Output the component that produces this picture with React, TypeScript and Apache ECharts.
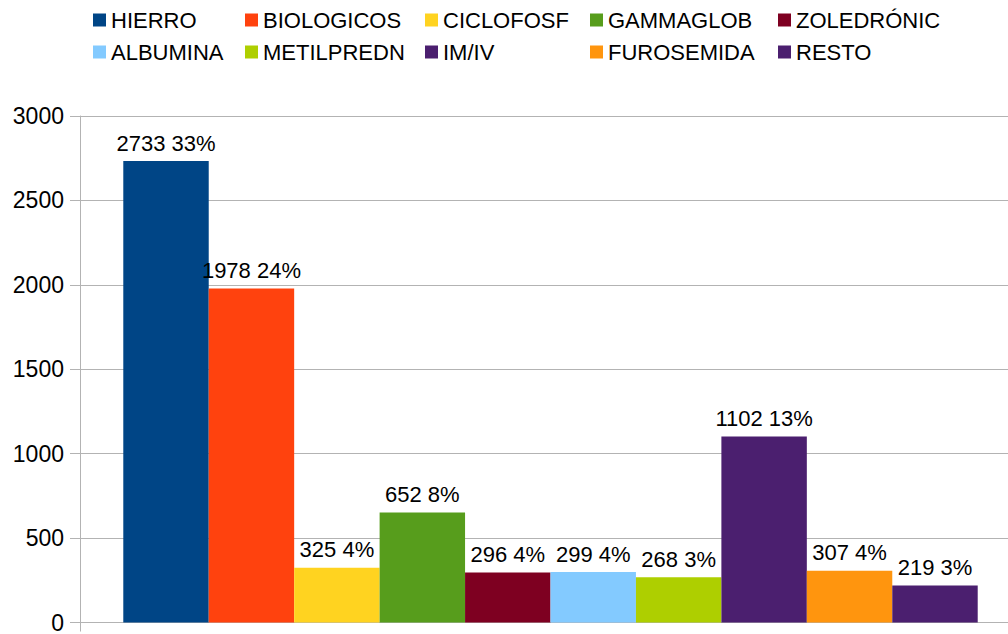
import React, { useEffect, useRef } from "react";
import * as echarts from "echarts";

const names = ["HIERRO", "BIOLOGICOS", "CICLOFOSF", "GAMMAGLOB", "ZOLEDRÓNIC", "ALBUMINA", "METILPREDN", "IM/IV", "FUROSEMIDA", "RESTO"];
const values = [2733, 1978, 325, 652, 296, 299, 268, 1102, 307, 219];
const percents = ["33%", "24%", "4%", "8%", "4%", "4%", "3%", "13%", "4%", "3%"];
const colors = ["#004586", "#ff420e", "#ffd320", "#579d1c", "#7e0021", "#83caff", "#aecf00", "#4b1f6f", "#ff950e", "#4b1f6f"];
const yTicks = { min: 0, max: 3000, interval: 500 };
const legendCols = [88, 240, 420, 585, 773];

const FONT = "Liberation Sans";

export default function App() {
  const ref = useRef<HTMLDivElement>(null);
  useEffect(() => {
    if (!ref.current) return;
    const chart = echarts.init(ref.current, null, { renderer: "svg" });
    const legends = legendCols.map((x, i) => ({
      orient: "vertical",
      left: x,
      top: 4,
      itemWidth: 13,
      itemHeight: 13,
      itemGap: 10,
      icon: "rect",
      data: [names[i], names[i + 5]],
      textStyle: { fontFamily: FONT, fontSize: 22, color: "#000", lineHeight: 22 },
    }));
    chart.setOption({
      animation: false,
      backgroundColor: "#fff",
      textStyle: { fontFamily: FONT },
      legend: legends,
      grid: { left: 80, right: 0, top: 116, bottom: 11, containLabel: false },
      xAxis: {
        type: "category",
        data: [""],
        axisLine: { lineStyle: { color: "#b3b3b3", width: 1 } },
        axisTick: { show: true, length: 9, lineStyle: { color: "#b3b3b3" } },
        axisLabel: { show: false },
      },
      yAxis: {
        type: "value",
        min: yTicks.min,
        max: yTicks.max,
        interval: yTicks.interval,
        axisLine: { show: true, lineStyle: { color: "#b3b3b3", width: 1 } },
        axisTick: { show: true, length: 10, lineStyle: { color: "#b3b3b3" } },
        splitLine: { lineStyle: { color: "#b3b3b3", width: 1 } },
        axisLabel: { fontFamily: FONT, fontSize: 23, color: "#000", margin: 16, formatter: (v: number) => String(v) },
      },
      series: names.map((n, i) => ({
        type: "bar",
        name: n,
        data: [values[i]],
        barGap: "0%",
        barCategoryGap: "9.2%",
        itemStyle: { color: colors[i] },
        label: {
          show: true,
          position: "top",
          distance: 7,
          fontFamily: FONT,
          fontSize: 22,
          color: "#000",
          formatter: () => `${values[i]} ${percents[i]}`,
        },
      })),
    });
    return () => chart.dispose();
  }, []);
  return (
    <div style={{ position: "fixed", left: 0, top: 0, width: 1008, height: 634, overflow: "hidden", background: "#fff" }}>
      <div ref={ref} style={{ width: 1021, height: 634 }} />
    </div>
  );
}
